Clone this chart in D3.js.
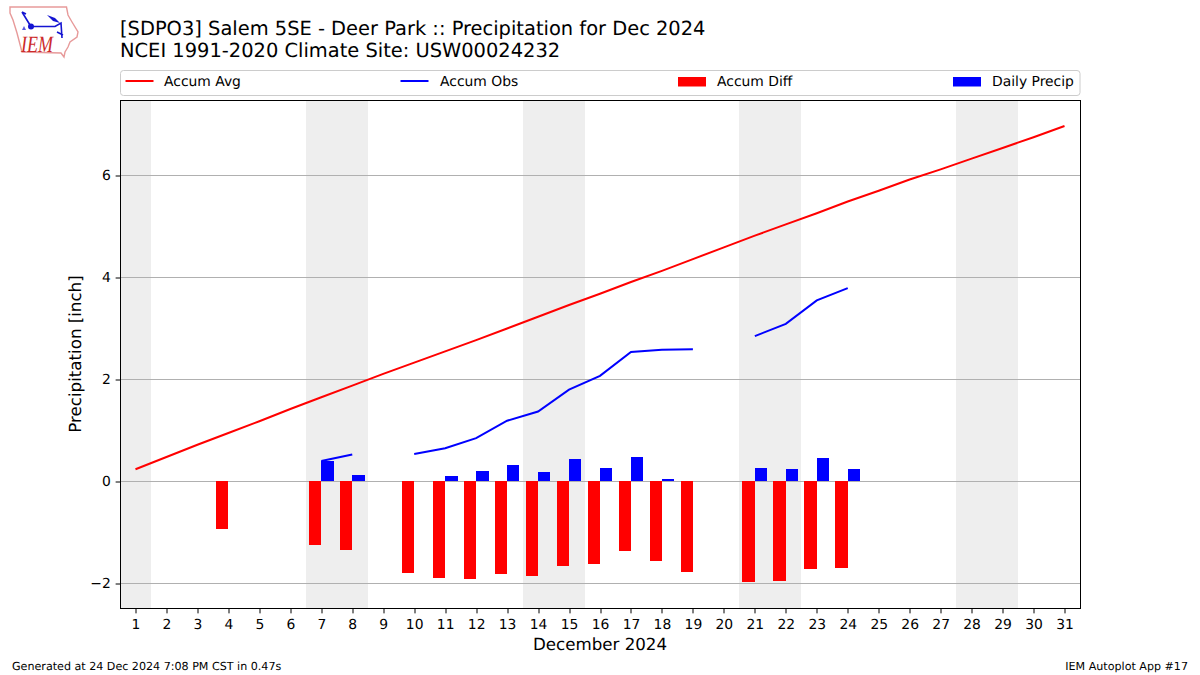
<!DOCTYPE html>
<html><head><meta charset="utf-8">
<script src="https://cdn.jsdelivr.net/npm/d3@7"></script>
<style>html,body{margin:0;padding:0;background:#fff}svg{display:block}text{font-family:"DejaVu Sans",sans-serif;fill:#000;text-rendering:geometricPrecision}</style>
</head><body><svg id="c" width="1200" height="675"></svg>
<script>
const days = d3.range(1, 32);
const tickLabels = days.map(String);
const weekendBands = [[0.5,1.5],[6.5,8.5],[13.5,15.5],[20.5,22.5],[27.5,29.5]];
const accumAvg = [0.24,0.48,0.72,0.95,1.18,1.42,1.65,1.88,2.11,2.33,2.55,2.77,3.0,3.23,3.46,3.68,3.91,4.13,4.36,4.59,4.82,5.04,5.26,5.49,5.70,5.92,6.12,6.33,6.54,6.75,6.97];
const accumObs = [null,null,null,null,null,null,0.40,0.53,null,0.54,0.65,0.85,1.19,1.37,1.80,2.07,2.54,2.58,2.59,null,2.85,3.09,3.55,3.79,null,null,null,null,null,null,null];
const accumDiff = [null,null,null,-0.93,null,null,-1.25,-1.345,null,-1.80,-1.895,-1.915,-1.82,-1.855,-1.66,-1.62,-1.365,-1.56,-1.78,null,-1.97,-1.95,-1.72,-1.70,null,null,null,null,null,null,null];
const dailyPrecip = [null,null,null,null,null,null,0.40,0.12,null,null,0.10,0.20,0.32,0.18,0.44,0.26,0.48,0.04,null,null,0.26,0.24,0.46,0.24,null,null,null,null,null,null,null];
const yTicks = [-2,0,2,4,6];
const legendItems = [["Accum Avg","line","#ff0000"],["Accum Obs","line","#0000ff"],["Accum Diff","bar","#ff0000"],["Daily Precip","bar","#0000ff"]];

const svg = d3.select("#c");
const L=120.5,R=1080.5,T=100.5,B=608.5;
const x = d3.scaleLinear().domain([0.5,31.5]).range([120,1080]);
const y = d3.scaleLinear().domain([-2.482,7.48]).range([608,100]);

svg.append("g").selectAll("rect").data(weekendBands).join("rect")
 .attr("x",d=>Math.round(x(d[0]))).attr("width",d=>Math.round(x(d[1]))-Math.round(x(d[0]))).attr("y",T).attr("height",B-T).attr("fill","#eeeeee");
svg.append("g").selectAll("line").data(yTicks).join("line")
 .attr("x1",L).attr("x2",R).attr("y1",d=>Math.floor(y(d))+.5).attr("y2",d=>Math.floor(y(d))+.5)
 .attr("stroke","#b0b0b0").attr("stroke-width",1);
const barW = 0.4;
const rx = v=>Math.round(x(v));
svg.append("g").selectAll("rect").data(days.filter((d,i)=>accumDiff[i]!==null)).join("rect")
 .attr("x",d=>rx(d-barW)).attr("width",d=>rx(d)-rx(d-barW)).attr("y",Math.round(y(0)))
 .attr("height",d=>Math.round(y(accumDiff[d-1]))-Math.round(y(0))).attr("fill","#ff0000");
svg.append("g").selectAll("rect").data(days.filter((d,i)=>dailyPrecip[i]!==null)).join("rect")
 .attr("x",d=>rx(d)).attr("width",d=>rx(d+barW)-rx(d)).attr("y",d=>Math.round(y(dailyPrecip[d-1])))
 .attr("height",d=>Math.round(y(0))-Math.round(y(dailyPrecip[d-1]))).attr("fill","#0000ff");
const line = d3.line().defined(d=>d[1]!==null).x(d=>x(d[0])).y(d=>y(d[1]));
svg.append("path").attr("d",line(days.map((d,i)=>[d,accumAvg[i]]))).attr("fill","none").attr("stroke","#ff0000").attr("stroke-width",2);
svg.append("path").attr("d",line(days.map((d,i)=>[d,accumObs[i]]))).attr("fill","none").attr("stroke","#0000ff").attr("stroke-width",2);
svg.append("rect").attr("x",L).attr("y",T).attr("width",R-L).attr("height",B-T).attr("fill","none").attr("stroke","#000").attr("stroke-width",1);
const ax = svg.append("g").attr("transform",`translate(0,${B})`).call(d3.axisBottom(x).tickValues(days).tickFormat((d,i)=>tickLabels[i]).tickSize(4.86).tickPadding(5.5));
const ay = svg.append("g").attr("transform",`translate(${L},0)`).call(d3.axisLeft(y).tickValues(yTicks).tickFormat(d=>d<0?"\u2212"+Math.abs(d):d).tickSize(4.86).tickPadding(4.86));
[ax,ay].forEach(g=>{g.select(".domain").remove();g.selectAll("text").style("font-size","13.89px").style("font-family",'"DejaVu Sans"');g.selectAll("line").attr("stroke","#000").attr("stroke-width",1);});
ax.selectAll(".tick").each(function(d){d3.select(this).select("line").attr("transform","translate("+(Math.floor(x(d))+.5-x(d))+",0)");});
ay.selectAll(".tick").each(function(d){d3.select(this).select("line").attr("transform","translate(0,"+(Math.floor(y(d))+.5-y(d))+")");});
const tx=(s,xp,yp,sz,anchor)=>svg.append("text").attr("x",xp).attr("y",yp).attr("font-size",sz).attr("text-anchor",anchor||"start").text(s);
tx("[SDPO3] Salem 5SE - Deer Park :: Precipitation for Dec 2024",120,35,"19.44px");
tx("NCEI 1991-2020 Climate Site: USW00024232",120,57,"19.44px");
tx("December 2024",600,649.5,"16.67px","middle");
svg.append("text").attr("transform","translate(81,354) rotate(-90)").attr("text-anchor","middle").attr("font-size","16.67px").text("Precipitation [inch]");
tx("Generated at 24 Dec 2024 7:08 PM CST in 0.47s",12,670,"11.11px");
tx("IEM Autoplot App #17",1188,670,"11.11px","end");
svg.append("rect").attr("x",120.5).attr("y",70.5).attr("width",959.5).attr("height",25).attr("rx",3).attr("fill","#fff").attr("stroke","#cccccc");
const lx=[125.5,400.5,678,953], ltx=[164,440,717,992];
legendItems.forEach((it,i)=>{
  if(it[1]==="line") svg.append("line").attr("x1",lx[i]).attr("x2",lx[i]+28).attr("y1",81).attr("y2",81).attr("stroke",it[2]).attr("stroke-width",2);
  else svg.append("rect").attr("x",lx[i]).attr("y",77).attr("width",28).attr("height",9.5).attr("fill",it[2]);
  tx(it[0],ltx[i],86,"13.89px");
});
const logo=svg.append("g");
logo.append("path").attr("d","M10 7 L66.5 7 L68 15 L72 22 L78 32 L77 37 L70 42 L68 47 L65 52 L64 57 L61 53 L22 52 L17 33 L13 20 L10 13 Z").attr("fill","none").attr("stroke","#e79a9a").attr("stroke-width",1.4);
logo.append("path").attr("d","M31 26.5 L55 26.5 L61 23 L62 38 M22 12 L30 25 M22 12 L26 14 M57 32 L63 35").attr("fill","none").attr("stroke","#1414d2").attr("stroke-width",1.6);
logo.append("path").attr("d","M47 15 L55 18 L60 23 L53 21 Z").attr("fill","#1414d2");
logo.append("circle").attr("cx",31).attr("cy",26.5).attr("r",3).attr("fill","#1414d2");
logo.append("path").attr("d","M24 26 L26 30 L22 30 Z").attr("fill","#5a5ae0");
logo.append("text").attr("transform","translate(21,52) scale(1,1.3)").attr("font-size","18px").attr("font-style","italic").style("font-family",'"Liberation Serif"').style("fill","#cc2a2a").text("IEM");
</script></body></html>
